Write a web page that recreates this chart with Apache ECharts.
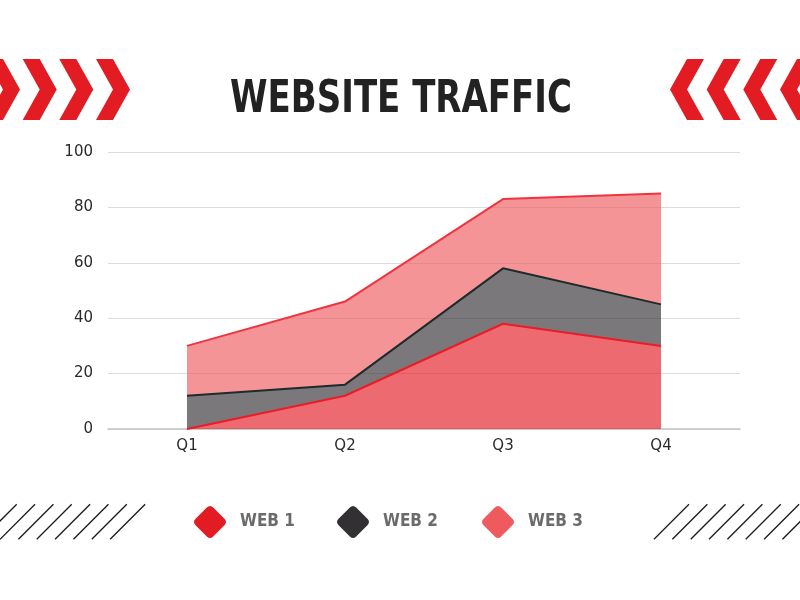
<!DOCTYPE html>
<html>
<head>
<meta charset="utf-8">
<script src="https://cdn.jsdelivr.net/npm/echarts@6/dist/echarts.min.js"></script>
<style>
html,body{margin:0;padding:0;background:#ffffff;}
#main{width:800px;height:600px;}
</style>
</head>
<body>
<div id="main"></div>
<script>
const categories = ['Q1', 'Q2', 'Q3', 'Q4'];
const web1 = [0, 12, 38, 30];
const web2 = [12, 4, 20, 15];
const web3 = [18, 30, 25, 40];
const seriesNames = ['WEB 1', 'WEB 2', 'WEB 3'];
const titleText = 'WEBSITE TRAFFIC';
const yTicks = { min: 0, max: 100, interval: 20 };

const fillColors = ['#e31b23', '#333033', '#ef5a5f'];
const lineColors = ['#ec1c26', '#1f2b2b', '#f0343f'];
const iconPath = 'path://M41,9 Q50,0 59,9 L91,41 Q100,50 91,59 L59,91 Q50,100 41,91 L9,59 Q0,50 9,41 Z';
const condFont = "'DejaVu Sans Condensed', 'DejaVu Sans', sans-serif";

// decorations
const graphics = [];
const chevronStarts = [-14, 22.7, 59.3, 96];
chevronStarts.forEach(function (x0) {
  graphics.push({
    type: 'polygon', silent: true,
    shape: { points: [[x0, 59], [x0 + 17, 59], [x0 + 34, 89.5], [x0 + 17, 120], [x0, 120], [x0 + 17, 89.5]] },
    style: { fill: '#e31b23' }
  });
  const m = function (x) { return 800 - x; };
  graphics.push({
    type: 'polygon', silent: true,
    shape: { points: [[m(x0), 59], [m(x0 + 17), 59], [m(x0 + 34), 89.5], [m(x0 + 17), 120], [m(x0), 120], [m(x0 + 17), 89.5]] },
    style: { fill: '#e31b23' }
  });
});
for (let k = 0; k < 8; k++) {
  const bx = -18.3 + 18.35 * k;
  graphics.push({ type: 'line', silent: true, shape: { x1: bx, y1: 539.3, x2: bx + 35, y2: 504.3 }, style: { stroke: '#1a1a1a', lineWidth: 1.3 } });
}
for (let k = 0; k < 9; k++) {
  const bx = 654 + 18.35 * k;
  graphics.push({ type: 'line', silent: true, shape: { x1: bx, y1: 539.3, x2: bx + 35, y2: 504.3 }, style: { stroke: '#1a1a1a', lineWidth: 1.3 } });
}
// title (condensed display text)
graphics.push({
  type: 'text', silent: true,
  x: 401, y: 100, scaleX: 0.84, scaleY: 1,
  style: { text: titleText, fill: '#222222', font: "bold 45px " + condFont, textAlign: 'center', textVerticalAlign: 'middle' }
});

const legendLefts = [189, 332, 477];
const legends = seriesNames.map(function (n, i) {
  return {
    data: [n],
    left: legendLefts[i], top: 501,
    orient: 'horizontal',
    icon: iconPath,
    itemWidth: 32, itemHeight: 32,
    selectedMode: false,
    itemStyle: { borderWidth: 0 },
    textStyle: { fontFamily: condFont, fontWeight: 'bold', fontSize: 17, color: '#6b6b6b', padding: [0, 0, 0, 9] }
  };
});

const dataSets = [web1, web2, web3];
const series = seriesNames.map(function (n, i) {
  return {
    name: n,
    type: 'line',
    stack: 'total',
    data: dataSets[i],
    showSymbol: false,
    symbol: 'none',
    itemStyle: { color: fillColors[i] },
    lineStyle: { color: lineColors[i], width: 2 },
    areaStyle: { color: fillColors[i], opacity: 0.65 },
    emphasis: { disabled: true },
    z: 5 - i
  };
});

const chart = echarts.init(document.getElementById('main'), null, { renderer: 'canvas' });
chart.setOption({
  backgroundColor: '#ffffff',
  animation: false,
  legend: legends,
  grid: { left: 108, right: 60, top: 152, bottom: 171 },
  xAxis: {
    type: 'category',
    data: categories,
    boundaryGap: true,
    axisLine: { lineStyle: { color: '#c4c4c4', width: 1.5 } },
    axisTick: { show: false },
    axisLabel: { fontFamily: 'DejaVu Sans', fontSize: 15, color: '#2a2a2a', margin: 10 }
  },
  yAxis: {
    type: 'value',
    min: yTicks.min, max: yTicks.max, interval: yTicks.interval,
    axisLine: { show: false },
    axisTick: { show: false },
    splitLine: { lineStyle: { color: '#dcdcdc', width: 1 } },
    axisLabel: { fontFamily: 'DejaVu Sans', fontSize: 15, color: '#2a2a2a', margin: 15 }
  },
  graphic: graphics,
  series: series
});
</script>
</body>
</html>
